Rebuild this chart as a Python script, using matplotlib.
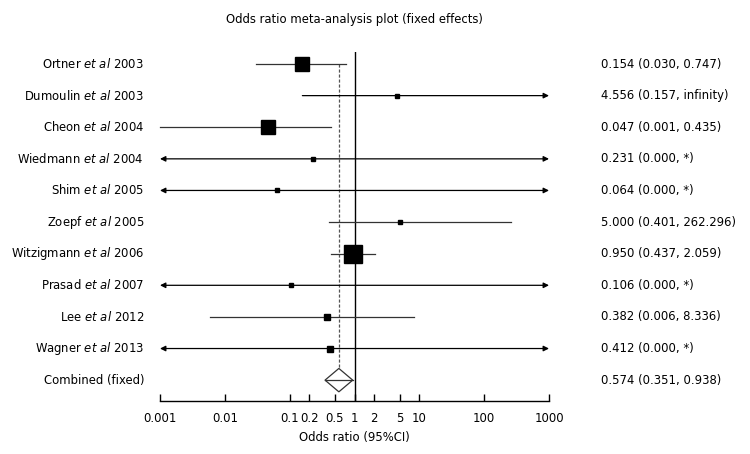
import matplotlib
matplotlib.use("Agg")
import matplotlib.pyplot as plt
from matplotlib.patches import Polygon
import numpy as np

studies = ["Ortner $\\it{et\\ al}$ 2003", "Dumoulin $\\it{et\\ al}$ 2003", "Cheon $\\it{et\\ al}$ 2004",
           "Wiedmann $\\it{et\\ al}$ 2004", "Shim $\\it{et\\ al}$ 2005", "Zoepf $\\it{et\\ al}$ 2005",
           "Witzigmann $\\it{et\\ al}$ 2006", "Prasad $\\it{et\\ al}$ 2007", "Lee $\\it{et\\ al}$ 2012",
           "Wagner $\\it{et\\ al}$ 2013"]
odds = [0.154, 4.556, 0.047, 0.231, 0.064, 5.000, 0.950, 0.106, 0.382, 0.412]
ci_low = [0.030, 0.157, 0.001, 0.000, 0.000, 0.401, 0.437, 0.000, 0.006, 0.000]
ci_high = [0.747, np.inf, 0.435, np.inf, np.inf, 262.296, 2.059, np.inf, 8.336, np.inf]
right_labels = ["0.154 (0.030, 0.747)", "4.556 (0.157, infinity)", "0.047 (0.001, 0.435)",
                "0.231 (0.000, *)", "0.064 (0.000, *)", "5.000 (0.401, 262.296)",
                "0.950 (0.437, 2.059)", "0.106 (0.000, *)", "0.382 (0.006, 8.336)",
                "0.412 (0.000, *)"]
box_size = [9.5, 3.0, 10.0, 3.0, 3.0, 3.0, 13.5, 3.0, 4.5, 4.0]
combined_label = "Combined (fixed)"
combined = (0.574, 0.351, 0.938)
combined_text = "0.574 (0.351, 0.938)"
xticks = [0.001, 0.01, 0.1, 0.2, 0.5, 1, 2, 5, 10, 100, 1000]
xtick_labels = ["0.001", "0.01", "0.1", "0.2", "0.5", "1", "2", "5", "10", "100", "1000"]
xmin, xmax = 0.001, 1000

plt.rcParams['font.family'] = ['DejaVu Sans']
fig = plt.figure(figsize=(7.5, 4.54), dpi=100)
ax = fig.add_axes([160/750, 1-401/454, 389/750, (401-52)/454])
ax.set_xscale('log')
ax.set_xlim(xmin, xmax)
ax.set_ylim(10.66, -0.38)

lw = 0.9
fs = 8.4
for i, (o, lo, hi) in enumerate(zip(odds, ci_low, ci_high)):
    left_arrow = lo < xmin
    right_arrow = hi > xmax
    l = max(lo, xmin)
    h = min(hi, xmax)
    if left_arrow and right_arrow:
        style = '<|-|>'
    elif right_arrow:
        style = '-|>'
    elif left_arrow:
        style = '<|-'
    else:
        style = '-'
    if style == '-':
        ax.plot([l, h], [i, i], color='#333333', lw=lw, clip_on=False, zorder=2)
    else:
        ax.annotate('', xy=(h, i), xytext=(l, i),
                    arrowprops=dict(arrowstyle=style, mutation_scale=8, color='black',
                                    lw=lw, shrinkA=0, shrinkB=0),
                    annotation_clip=False, zorder=2)
    ax.plot([o], [i], marker='s', markersize=box_size[i], color='black', zorder=3, clip_on=False)
    ax.text(-16/389, i, studies[i], transform=ax.get_yaxis_transform(), ha='right', va='center', fontsize=fs)
    ax.text((601-160)/389, i, right_labels[i], transform=ax.get_yaxis_transform(), ha='left', va='center', fontsize=fs)

# combined
ci_row = len(odds)
est, clo, chi = combined
dh = 0.37
diamond = Polygon([[clo, ci_row], [est, ci_row - dh], [chi, ci_row], [est, ci_row + dh]],
                  closed=True, facecolor='white', edgecolor='#333333', lw=lw, zorder=3)
ax.add_patch(diamond)
ax.plot([clo, chi], [ci_row, ci_row], color='#333333', lw=lw, zorder=4)
ax.text(-16/389, ci_row, combined_label, transform=ax.get_yaxis_transform(), ha='right', va='center', fontsize=fs)
ax.text((601-160)/389, ci_row, combined_text, transform=ax.get_yaxis_transform(), ha='left', va='center', fontsize=fs)

# reference lines
ax.axvline(1, color='black', lw=1.0, zorder=1)
ax.plot([est, est], [0, ci_row - dh], color='#555555', lw=0.9, ls=(0, (2.5, 1.5)), zorder=1)

for s in ['top', 'right', 'left']:
    ax.spines[s].set_visible(False)
ax.spines['bottom'].set_linewidth(1.0)
ax.set_yticks([])
ax.set_xticks(xticks)
ax.set_xticklabels(xtick_labels, fontsize=fs)
ax.xaxis.set_minor_locator(matplotlib.ticker.NullLocator())
ax.tick_params(axis='x', direction='in', length=5, width=1.0, pad=8)

fig.text(354.5/750, 1-20/454, "Odds ratio meta-analysis plot (fixed effects)", ha='center', va='center', fontsize=fs)
fig.text(354.5/750, 1-437/454, "Odds ratio (95%CI)", ha='center', va='center', fontsize=fs)

fig.savefig("out.png", dpi=100)
